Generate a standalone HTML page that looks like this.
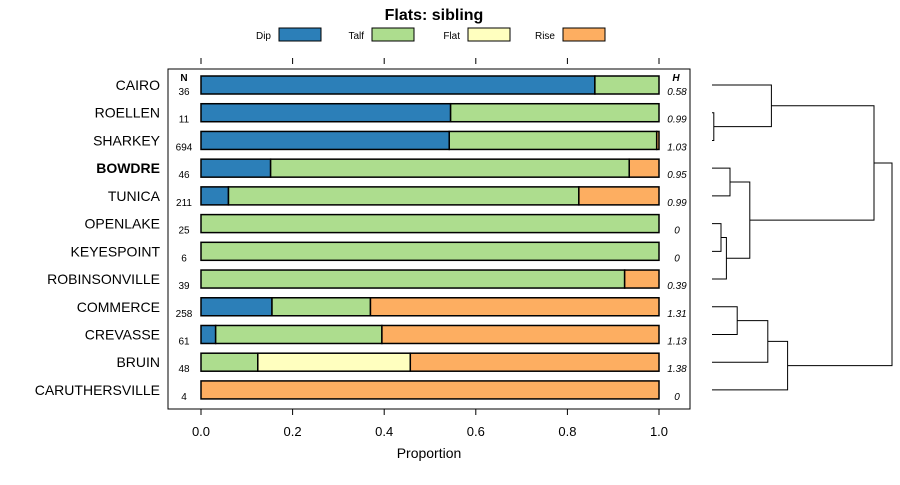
<!DOCTYPE html>
<html><head><meta charset="utf-8"><style>
body{margin:0;background:#fff}
svg{font-family:"Liberation Sans",sans-serif}
</style></head><body>
<svg id="c" width="900" height="480" xmlns="http://www.w3.org/2000/svg">
<text x="434" y="20" text-anchor="middle" font-size="16" font-weight="bold">Flats: sibling</text>
<g id="legend"></g>
<rect x="168" y="69" width="522" height="340" fill="none" stroke="#000" stroke-width="1"/>
<g id="axes"></g><g id="bars"></g><g id="dendro"></g>
<text x="429" y="458" text-anchor="middle" font-size="14">Proportion</text>
</svg>
<script>
const categories=["CAIRO","ROELLEN","SHARKEY","BOWDRE","TUNICA","OPENLAKE","KEYESPOINT","ROBINSONVILLE","COMMERCE","CREVASSE","BRUIN","CARUTHERSVILLE"];
const seriesNames=["Dip","Talf","Flat","Rise"];
const dip=[0.86,0.545,0.542,0.152,0.06,0,0,0,0.155,0.032,0,0];
const talf=[0.14,0.455,0.453,0.783,0.765,1,1,0.925,0.215,0.363,0.124,0];
const flat=[0,0,0,0,0,0,0,0,0,0,0.333,0];
const rise=[0,0,0.005,0.065,0.175,0,0,0.075,0.63,0.605,0.543,1];
const nVals=["36","11","694","46","211","25","6","39","258","61","48","4"];
const hVals=["0.58","0.99","1.03","0.95","0.99","0","0","0.39","1.31","1.13","1.38","0"];
const ticks=[0,0.2,0.4,0.6,0.8,1];
const tickLabels=["0.0","0.2","0.4","0.6","0.8","1.0"];
const colors=["#2c7fb8","#addd8e","#ffffbf","#fdae61"];
const ns="http://www.w3.org/2000/svg";
const X=v=>201+v*458, Y=i=>85+i*27.72;
function mk(t,a,p,txt){const e=document.createElementNS(ns,t);for(const k in a)e.setAttribute(k,a[k]);if(txt!=null)e.textContent=txt;p.appendChild(e);return e;}
const lg=document.getElementById('legend');
const lgX=[279,372,468,563];
seriesNames.forEach((s,i)=>{
 const t=mk('text',{x:lgX[i]-8,y:39,'text-anchor':'end','font-size':10},lg,s);
 
 
 const r=mk('rect',{x:lgX[i],y:28,width:42,height:13,fill:colors[i],stroke:'#000','stroke-width':1},lg);
 
 
});
const ax=document.getElementById('axes');
ticks.forEach((v,i)=>{
 const a=mk('line',{x1:X(v),x2:X(v),y1:58,y2:64,stroke:'#000'},ax);
 
 
 const b=mk('line',{x1:X(v),x2:X(v),y1:409,y2:415,stroke:'#000'},ax);
 
 
 const t=mk('text',{x:X(v),y:436,'text-anchor':'middle','font-size':13},ax,tickLabels[i]);
 
 
});
const nh=mk('text',{x:184,y:81,'text-anchor':'middle','font-size':10,'font-weight':'bold'},ax,'N');


const hh=mk('text',{x:676,y:81,'text-anchor':'middle','font-size':10,'font-weight':'bold','font-style':'italic'},ax,'H');


const bg=document.getElementById('bars');
const series=[dip,talf,flat,rise];
categories.forEach((c,i)=>{
 const y=Y(i);
 const l=mk('text',{x:160,y:y+5,'text-anchor':'end','font-size':14,'font-weight':c==='BOWDRE'?'bold':'normal'},bg,c);
 
 
 const n=mk('text',{x:184,y:y+10,'text-anchor':'middle','font-size':10},bg,nVals[i]);
 
 
 const h=mk('text',{x:677,y:y+10,'text-anchor':'middle','font-size':10,'font-style':'italic'},bg,hVals[i]);
 
 
 let cum=0;
 series.forEach((s,k)=>{
  const v=s[i]; if(v<=0)return;
  const r=mk('rect',{x:X(cum),y:y-9,width:X(cum+v)-X(cum),height:18,fill:colors[k],stroke:'#000','stroke-width':1.5},bg);
  
  
  cum+=v;
 });
});
// dendrogram: [leftNode,rightNode,height] ; nodes: leaf index >=0, merge index as -(k+1)
const merges=[[1,2,0.01],[0,-1,0.33],[3,4,0.10],[5,6,0.05],[-4,7,0.08],[-3,-5,0.21],[-2,-6,0.90],[8,9,0.14],[-8,10,0.31],[-9,11,0.42],[-7,-10,1.0]];
const dg=document.getElementById('dendro');
const DX=h=>712+h*180;
const pos=[];
function P(n){return n>=0?{y:Y(n),x:712}:pos[-n-1];}
merges.forEach((m,k)=>{
 const a=P(m[0]),b=P(m[1]),x=DX(m[2]);
 const p=mk('path',{d:`M${a.x},${a.y}H${x}V${b.y}H${b.x}`,fill:'none',stroke:'#000','stroke-width':1},dg);
 
 
 pos.push({x:x,y:(a.y+b.y)/2});
});
</script>
</body></html>
